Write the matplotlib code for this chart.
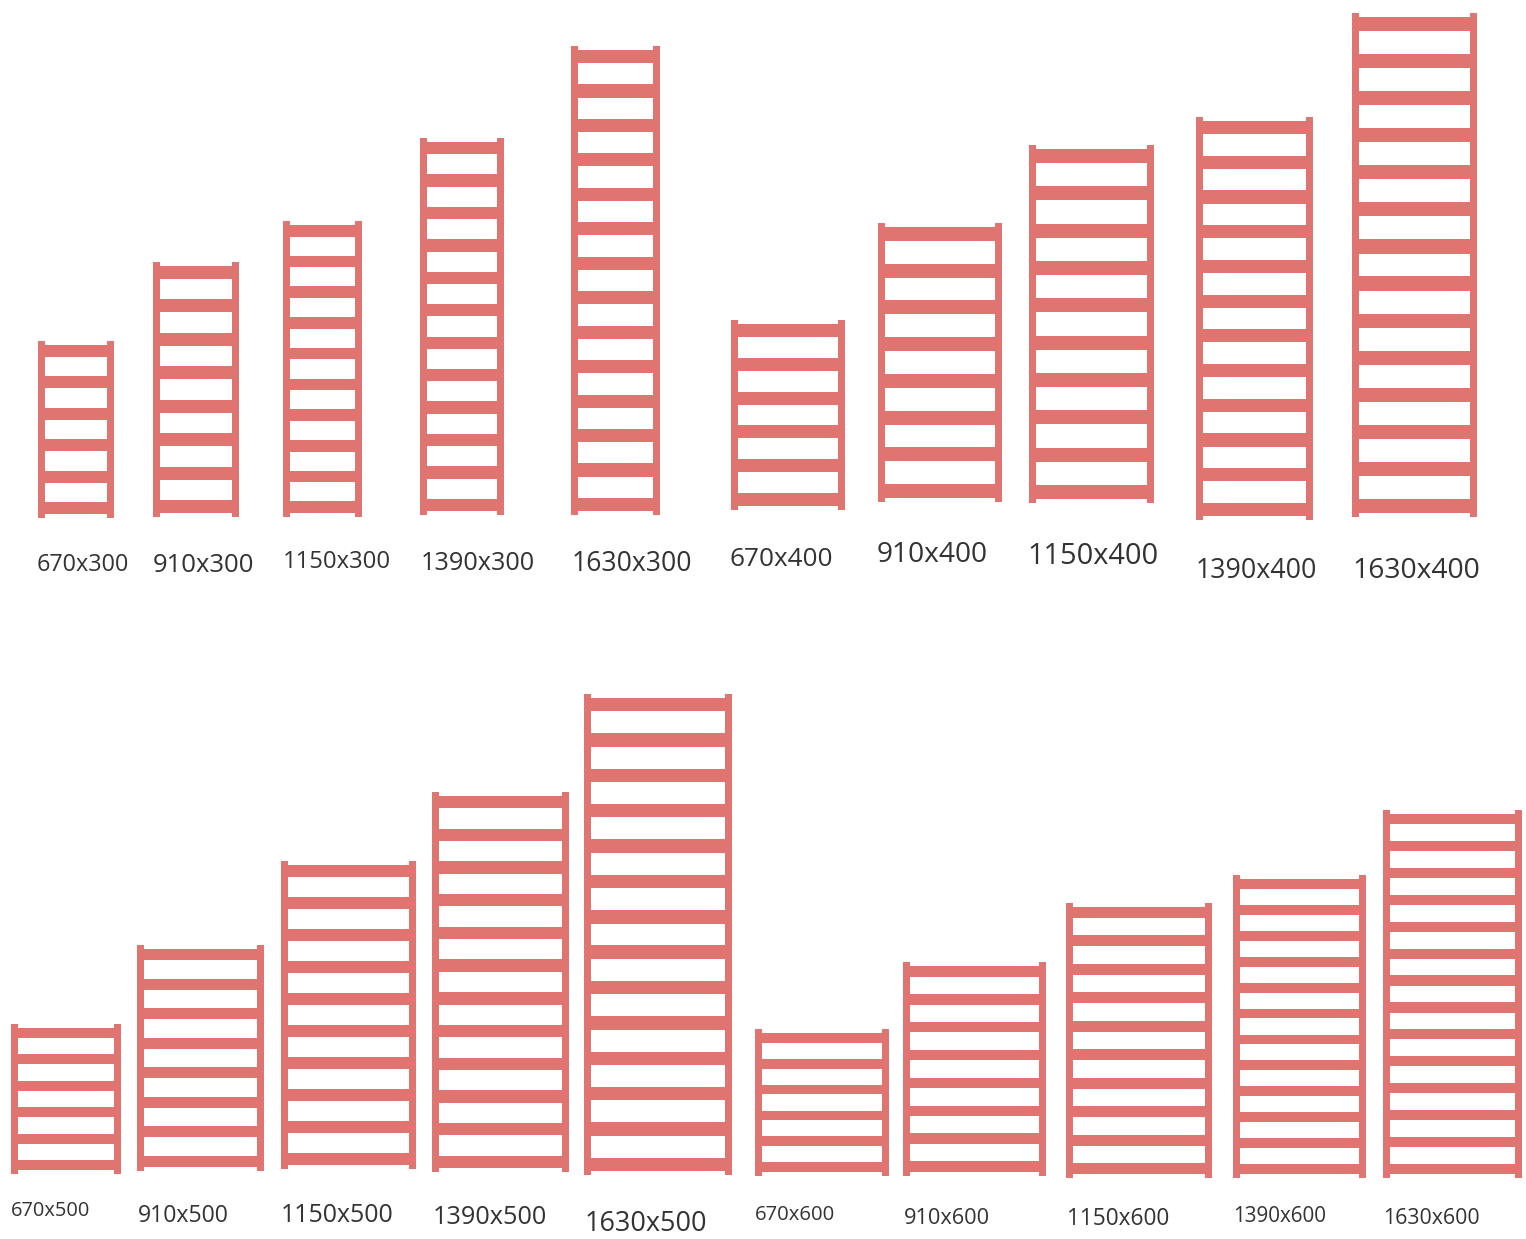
import matplotlib.pyplot as plt
import numpy as np

# radiator sizes (height x width, mm) and number of rungs per height
heights = [670, 910, 1150, 1390, 1630]
widths = [300, 400, 500, 600]
rungs = [6, 8, 10, 12, 14]

# layout: pixel box of every ladder (x0, y0, x1, y1), order = widths x heights
boxes = [
    (38, 341, 114, 518), (153, 262, 239, 517), (283, 221, 362, 517),
    (420, 138, 504, 515), (571, 46, 660, 515),
    (731, 320, 845, 510), (878, 223, 1002, 502), (1029, 145, 1154, 503),
    (1196, 117, 1313, 520), (1352, 13, 1477, 517),
    (11, 1024, 121, 1174), (137, 945, 264, 1171), (281, 861, 416, 1169),
    (432, 792, 569, 1172), (584, 694, 732, 1175),
    (755, 1029, 889, 1176), (903, 962, 1046, 1176), (1066, 903, 1212, 1178),
    (1233, 875, 1366, 1178), (1383, 810, 1522, 1178),
]
# label centre (px) and label width (px)
label_pos = [
    (83, 565), (203, 565), (337, 562), (478, 563), (632, 564),
    (781, 559), (932, 555), (1093, 557), (1256, 571), (1416, 571),
    (51, 1211), (183, 1216), (337, 1216), (490, 1218), (646, 1224),
    (795, 1215), (947, 1218), (1118, 1219), (1280, 1217), (1431, 1219),
]
label_w = [93, 102, 108, 115, 121, 104, 112, 132, 122, 129,
           80, 92, 113, 115, 123, 81, 87, 103, 94, 97]

W, H = 1526, 1239
color = '#df7471'
rail_px = 7
nub_px = 4

fig = plt.figure(figsize=(W / 100, H / 100), dpi=100)
fig.patch.set_facecolor('white')
renderer = fig.canvas.get_renderer()

k = 0
for w in widths:
    for h, n in zip(heights, rungs):
        x0, y0, x1, y1 = boxes[k]
        bw, bh = x1 - x0, y1 - y0
        ax = fig.add_axes([x0 / W, 1 - y1 / H, bw / W, bh / H])
        ax.set_xlim(0, w)
        ax.set_ylim(0, h)
        ax.axis('off')

        rw = rail_px / bw * w
        nub = nub_px / bh * h
        span = h - 2 * nub
        step = span / (n - 1 + 0.38)
        t = 0.38 * step
        ys = nub + t / 2 + step * np.arange(n)

        # rails
        ax.bar([0, w - rw], h, width=rw, align='edge', color=color, linewidth=0)
        # rungs
        ax.barh(ys, w, left=0, height=t, color=color, linewidth=0)

        # label
        cx, cy = label_pos[k]
        txt = fig.text(cx / W, 1 - cy / H, f'{h}x{w}', ha='center', va='center',
                       fontsize=14, color='#333333', family='Open Sans')
        ext = txt.get_window_extent(renderer)
        txt.set_fontsize(14 * label_w[k] / ext.width)
        k += 1

fig.savefig('out.png', dpi=100, facecolor='white')
